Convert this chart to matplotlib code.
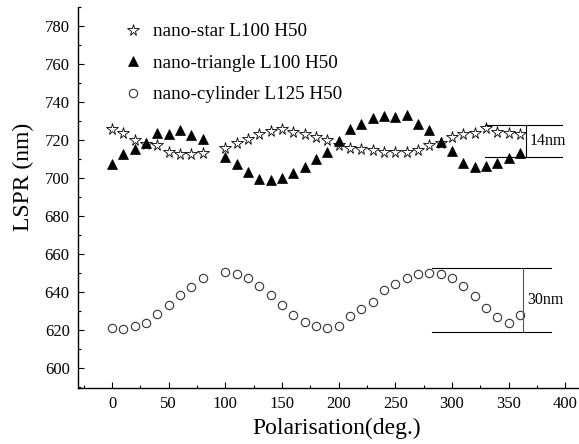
import matplotlib
matplotlib.use("Agg")
import matplotlib.pyplot as plt
from matplotlib.ticker import MultipleLocator

# ── datos ─────────────────────────────────────────────────────────────
angles = [0, 10, 20, 30, 40, 50, 60, 70, 80,
          100, 110, 120, 130, 140, 150, 160, 170, 180, 190, 200,
          210, 220, 230, 240, 250, 260, 270, 280, 290, 300,
          310, 320, 330, 340, 350, 360]

star = [725.7, 723.9, 719.8, 718.0, 717.2, 713.5, 712.8, 712.8, 713.2,
        715.6, 718.3, 720.4, 723.3, 724.7, 725.6, 724.4, 723.3, 721.6, 719.8, 717.2,
        716.0, 715.1, 714.6, 713.9, 713.5, 713.7, 714.9, 717.4, 718.6, 721.5,
        723.0, 723.9, 726.2, 724.2, 723.7, 723.2]

triangle = [707.5, 712.8, 715.4, 718.6, 723.7, 723.3, 725.1, 722.6, 720.4,
            711.0, 707.5, 703.2, 699.3, 699.0, 700.2, 702.8, 706.0, 709.8, 713.9, 719.5,
            725.8, 728.6, 731.7, 732.6, 732.1, 733.2, 728.3, 725.1, 719.1, 714.0,
            708.0, 705.8, 706.3, 708.0, 710.7, 713.3]

cylinder = [621.0, 620.4, 622.3, 623.7, 628.2, 633.2, 638.2, 642.6, 647.5,
            650.3, 649.5, 647.5, 643.3, 638.4, 633.2, 627.7, 624.2, 621.9, 620.9, 622.3,
            627.2, 631.0, 634.8, 641.1, 644.4, 647.5, 649.3, 650.0, 649.3, 647.5,
            643.2, 637.7, 631.4, 626.8, 623.9, 628.0]

labels = ["nano-star L100 H50", "nano-triangle L100 H50", "nano-cylinder L125 H50"]

# corchetes de amplitud (x0, x1, xv, y_bajo, y_alto, texto)
bracket_star = (329, 397, 365, 711, 728, "14nm")
bracket_cyl = (282, 387, 363, 619, 652.5, "30nm")

# ── estilo ────────────────────────────────────────────────────────────
plt.rcParams.update({
    "font.family": ["Liberation Serif", "DejaVu Serif"],
    "axes.linewidth": 1.0,
    "xtick.direction": "in",
    "ytick.direction": "in",
})

fig = plt.figure(figsize=(5.79, 4.44), dpi=100)
ax = fig.add_axes([78 / 579, 1 - 388 / 444, 1 - 78 / 579, (388 - 7) / 444])

ax.plot(angles, star, ls="none", marker="*", ms=8.5, mfc="white", mec="black",
        mew=0.6, label=labels[0])
ax.plot(angles, triangle, ls="none", marker="^", ms=7, mfc="black", mec="black",
        mew=0.5, label=labels[1])
ax.plot(angles, cylinder, ls="none", marker="o", ms=6, mfc="white", mec="#333333",
        mew=0.8, label=labels[2])

for x0, x1, xv, ylo, yhi, txt in (bracket_star, bracket_cyl):
    ax.plot([x0, x1], [yhi, yhi], color="black", lw=0.8)
    ax.plot([x0, x1], [ylo, ylo], color="black", lw=0.8)
    ax.plot([xv, xv], [ylo, yhi], color="#555555" if txt == "30nm" else "black", lw=0.8)
    ax.text(xv + 3.5, (ylo + yhi) / 2, txt, fontsize=11.5, va="center", ha="left")

ax.set_xlim(-30, 412)
ax.set_ylim(589.5, 790)
ax.xaxis.set_major_locator(MultipleLocator(50))
ax.xaxis.set_minor_locator(MultipleLocator(25))
ax.yaxis.set_major_locator(MultipleLocator(20))
ax.yaxis.set_minor_locator(MultipleLocator(10))
ax.tick_params(which="major", length=4.5, width=0.8, labelsize=12, pad=6)
ax.tick_params(which="minor", length=2.5, width=0.8)
ax.spines["top"].set_visible(False)
ax.spines["right"].set_visible(False)

ax.set_xlabel("Polarisation(deg.)", fontsize=17, labelpad=4)
ax.set_ylabel("LSPR (nm)", fontsize=17, labelpad=8)
# etiquetas algo descentradas, como en la figura original
ax.xaxis.label.set_x(0.517)
ax.yaxis.label.set_y(0.554)

ax.legend(loc="upper left", bbox_to_anchor=(0.09, 0.9585), frameon=False,
          fontsize=13.8, numpoints=1, handlelength=1.0, handletextpad=0.54,
          labelspacing=0.74, borderpad=0, borderaxespad=0)

fig.savefig("out.png", dpi=100)
